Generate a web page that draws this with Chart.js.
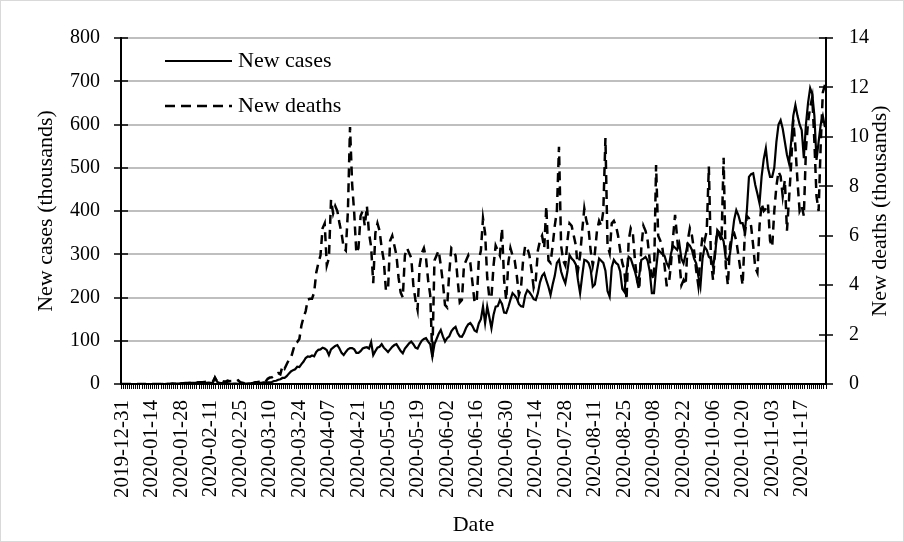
<!DOCTYPE html>
<html lang="en">
<head>
<meta charset="UTF-8">
<title>New cases and new deaths</title>
<script src="https://cdn.jsdelivr.net/npm/chart.js"></script>
<style>
  html, body { margin: 0; padding: 0; background: #fff; }
  #wrap { width: 904px; height: 542px; }
</style>
</head>
<body>
<div id="wrap"><canvas id="chart" width="904" height="542"></canvas></div>
<script>
// first day of the daily series, one value per day after it
const firstDay = Date.UTC(2019, 11, 31);

// dates shown under the x axis (every 14th day)
const tickDates = [
  '2019-12-31', '2020-01-14', '2020-01-28', '2020-02-11', '2020-02-25', '2020-03-10',
  '2020-03-24', '2020-04-07', '2020-04-21', '2020-05-05', '2020-05-19', '2020-06-02',
  '2020-06-16', '2020-06-30', '2020-07-14', '2020-07-28', '2020-08-11', '2020-08-25',
  '2020-09-08', '2020-09-22', '2020-10-06', '2020-10-20', '2020-11-03', '2020-11-17'
];

// left axis ticks (thousands of cases) and right axis ticks (thousands of deaths)
const caseTicks = [0, 100, 200, 300, 400, 500, 600, 700, 800];
const deathTicks = [0, 2, 4, 6, 8, 10, 12, 14];

// new cases, thousands (one row = one week, Tuesday to Monday)
const newCases = [
  0.03, 0, 0, 0, 0, 0.02, 0,
  0, 0, 0, 0, 0, 0, 0,
  0, 0, 0, 0.01, 0.02, 0.14, 0.02,
  0.15, 0.15, 0.1, 0.28, 0.5, 0.7, 0.8,
  1.8, 1.5, 1.8, 2.0, 2.1, 2.6, 2.8,
  3.2, 3.9, 3.7, 3.2, 3.4, 2.7, 3.0,
  2.5, 2.0, 15.2, 5.1, 2.6, 2.1, 2.1,
  1.9, 1.8, 0.5, 0.6, 1.0, 1.0, 0.6,
  0.9, 0.9, 0.8, 1.1, 1.3, 1.6, 1.8,
  2.3, 1.9, 2.5, 2.9, 3.8, 3.9, 3.6,
  4.1, 4.6, 7.0, 7.5, 9.8, 11.0, 14.0,
  14.0, 18.0, 24.0, 29.0, 32.0, 34.0, 40.0,
  39.0, 46.0, 52.0, 60.0, 64.0, 63.0, 66.0,
  64.0, 74.0, 79.0, 80.0, 84.0, 82.0, 78.0,
  67.0, 80.0, 84.0, 88.0, 90.0, 82.0, 72.0,
  67.0, 74.0, 80.0, 83.0, 83.0, 80.0, 72.0,
  72.0, 76.0, 82.0, 84.0, 85.0, 82.0, 97.0,
  67.0, 76.0, 84.0, 86.0, 92.0, 84.0, 79.0,
  74.0, 80.0, 86.0, 90.0, 92.0, 84.0, 76.0,
  71.0, 82.0, 88.0, 94.0, 98.0, 92.0, 84.0,
  82.0, 92.0, 100.0, 104.0, 106.0, 98.0, 92.0,
  63.0, 92.0, 104.0, 116.0, 125.0, 110.0, 98.0,
  106.0, 110.0, 122.0, 128.0, 132.0, 118.0, 110.0,
  109.0, 118.0, 130.0, 138.0, 141.0, 134.0, 124.0,
  121.0, 140.0, 150.0, 179.0, 141.0, 179.0, 155.0,
  129.0, 160.0, 179.0, 180.0, 194.0, 185.0, 165.0,
  164.0, 178.0, 195.0, 210.0, 205.0, 198.0, 185.0,
  180.0, 179.0, 205.0, 217.0, 212.0, 205.0, 196.0,
  194.0, 210.0, 235.0, 250.0, 256.0, 240.0, 225.0,
  206.0, 230.0, 250.0, 280.0, 287.0, 260.0, 245.0,
  233.0, 260.0, 298.0, 290.0, 285.0, 276.0, 240.0,
  210.0, 250.0, 287.0, 285.0, 280.0, 265.0, 225.0,
  230.0, 262.0, 290.0, 285.0, 280.0, 262.0, 215.0,
  202.0, 270.0, 287.0, 280.0, 276.0, 260.0, 220.0,
  213.0, 260.0, 294.0, 290.0, 275.0, 260.0, 240.0,
  250.0, 287.0, 290.0, 294.0, 285.0, 260.0, 210.0,
  210.0, 265.0, 310.0, 305.0, 300.0, 296.0, 280.0,
  270.0, 300.0, 320.0, 315.0, 310.0, 325.0, 290.0,
  279.0, 300.0, 325.0, 320.0, 310.0, 290.0, 279.0,
  250.0, 225.0, 290.0, 317.0, 310.0, 294.0, 290.0,
  271.0, 300.0, 356.0, 350.0, 340.0, 330.0, 290.0,
  287.0, 300.0, 340.0, 380.0, 402.0, 390.0, 372.0,
  372.0, 350.0, 400.0, 479.0, 485.0, 487.0, 460.0,
  440.0, 418.0, 480.0, 520.0, 545.0, 500.0, 479.0,
  479.0, 500.0, 560.0, 600.0, 610.0, 590.0, 560.0,
  530.0, 510.0, 560.0, 620.0, 645.0, 620.0, 600.0,
  587.0, 522.0, 600.0, 650.0, 684.0, 670.0, 620.0,
  518.0, 560.0, 600.0, 620.0, 594.0
];

// new deaths, thousands
const newDeaths = [
  0, 0, 0, 0, 0, 0, 0,
  0, 0, 0, 0.001, 0, 0, 0,
  0, 0, 0.001, 0, 0, 0.001, 0,
  0.003, 0.003, 0.008, 0.016, 0.015, 0.015, 0.024,
  0.026, 0.026, 0.038, 0.043, 0.046, 0.045, 0.057,
  0.064, 0.065, 0.073, 0.073, 0.086, 0.089, 0.097,
  0.108, 0.097, 0.254, 0.121, 0.143, 0.142, 0.106,
  0.098, 0.136, 0.115, 0.118, 0.109, 0.097, 0.150,
  0.071, 0.052, 0.029, 0.044, 0.047, 0.035, 0.042,
  0.067, 0.070, 0.090, 0.100, 0.110, 0.100, 0.210,
  0.26, 0.27, 0.33, 0.35, 0.44, 0.39, 0.73,
  0.62, 0.80, 0.97, 1.05, 1.35, 1.66, 1.70,
  1.82, 2.38, 2.70, 2.95, 3.42, 3.45, 3.45,
  3.70, 4.50, 4.90, 5.20, 6.30, 6.50, 4.80,
  5.10, 7.45, 6.90, 7.20, 7.00, 6.50, 6.10,
  5.50, 5.40, 7.00, 10.40, 8.10, 6.90, 5.30,
  5.50, 6.80, 7.00, 6.40, 7.20, 6.10, 5.55,
  4.08, 6.10, 6.50, 6.20, 5.50, 5.00, 3.80,
  3.80, 5.80, 6.00, 5.60, 5.20, 4.30, 3.70,
  3.50, 5.20, 5.50, 5.30, 5.10, 4.00, 3.40,
  3.00, 4.80, 5.30, 5.50, 5.10, 4.20, 3.60,
  1.10, 5.00, 5.20, 5.40, 4.80, 4.10, 3.20,
  3.10, 4.50, 5.50, 5.40, 5.20, 4.20, 3.30,
  3.40, 4.80, 5.00, 5.20, 4.90, 4.10, 3.30,
  3.30, 5.00, 5.40, 6.70, 6.10, 4.30, 3.50,
  3.50, 4.80, 5.60, 5.40, 5.20, 6.30, 4.20,
  3.40, 4.90, 5.50, 5.20, 5.00, 4.40, 3.60,
  3.90, 5.00, 5.60, 5.50, 5.20, 4.60, 3.90,
  4.20, 5.40, 5.80, 6.00, 5.50, 7.20, 5.00,
  4.90, 5.60, 6.40, 7.00, 9.60, 5.60, 5.00,
  4.80, 5.80, 6.50, 6.40, 6.00, 5.60, 4.60,
  5.20, 6.20, 7.10, 6.60, 6.30, 5.40, 4.80,
  5.30, 6.20, 6.60, 6.40, 7.00, 9.95, 5.60,
  5.30, 6.50, 6.60, 6.40, 6.00, 5.40, 4.90,
  4.60, 3.40, 5.80, 6.30, 6.10, 5.00, 4.20,
  3.80, 5.50, 6.40, 6.20, 5.80, 5.00, 4.40,
  4.20, 8.86, 6.00, 5.80, 5.50, 4.80, 4.00,
  4.00, 4.80, 5.90, 6.84, 5.90, 5.00, 4.00,
  4.20, 4.00, 5.80, 6.30, 6.00, 5.40, 4.60,
  4.00, 5.20, 6.00, 5.80, 6.20, 8.80, 5.00,
  4.20, 5.50, 6.20, 6.00, 5.80, 9.15, 4.80,
  4.00, 5.60, 6.00, 6.10, 5.80, 5.20, 4.60,
  4.00, 6.00, 6.80, 6.70, 6.40, 5.60, 4.70,
  4.50, 6.40, 7.30, 7.00, 7.10, 7.30, 5.80,
  5.55, 7.00, 8.00, 8.60, 8.40, 7.60, 8.25,
  6.20, 7.50, 8.90, 10.70, 9.60, 8.20, 7.00,
  7.20, 6.80, 9.50, 10.60, 11.20, 11.60, 9.80,
  7.60, 7.00, 9.70, 11.80, 12.10
];

const serif = "'Liberation Serif', 'Times New Roman', serif";

// one label per day
const dates = [];
for (let i = 0; i < newCases.length; i++) {
  dates.push(new Date(firstDay + i * 86400000).toISOString().slice(0, 10));
}

// legend, crossing tick marks, right title, grid (painted behind) and the outer frame
const extras = {
  id: 'extras',
  afterDraw(chart) {
    const ctx = chart.ctx;
    const area = chart.chartArea;
    const yL = chart.scales.y;
    const yR = chart.scales.y1;
    ctx.save();

    ctx.setLineDash([]);
    ctx.strokeStyle = '#000';
    ctx.lineWidth = 1.5;
    caseTicks.forEach(v => {
      const py = Math.round(yL.getPixelForValue(v));
      ctx.beginPath(); ctx.moveTo(area.left - 7, py); ctx.lineTo(area.left + 7, py); ctx.stroke();
    });
    deathTicks.forEach(v => {
      const py = Math.round(yR.getPixelForValue(v));
      ctx.beginPath(); ctx.moveTo(area.right - 7, py); ctx.lineTo(area.right + 7, py); ctx.stroke();
    });

    // legend inside the plot
    const lx = area.left + 44;
    const rows = [
      { text: 'New cases', y: area.top + 23, width: 2.2, dash: [] },
      { text: 'New deaths', y: area.top + 68, width: 2.5, dash: [10, 6] }
    ];
    ctx.font = '22px ' + serif;
    ctx.fillStyle = '#000';
    ctx.textBaseline = 'middle';
    ctx.textAlign = 'left';
    rows.forEach(r => {
      ctx.lineWidth = r.width;
      ctx.setLineDash(r.dash);
      ctx.beginPath(); ctx.moveTo(lx, r.y); ctx.lineTo(lx + 67, r.y); ctx.stroke();
      ctx.setLineDash([]);
      ctx.fillText(r.text, lx + 73, r.y);
    });

    // right axis title, read bottom to top like the left one
    ctx.save();
    ctx.translate(880, (area.top + area.bottom) / 2);
    ctx.rotate(-Math.PI / 2);
    ctx.textAlign = 'center';
    ctx.fillText('New deaths (thousands)', 0, 0);
    ctx.restore();

    // horizontal grid, slid under everything already painted
    ctx.globalCompositeOperation = 'destination-over';
    ctx.strokeStyle = '#bfbfbf';
    ctx.lineWidth = 2;
    for (let k = 1; k < caseTicks.length; k++) {
      const py = Math.round(yL.getPixelForValue(caseTicks[k]));
      ctx.beginPath(); ctx.moveTo(area.left + 1, py); ctx.lineTo(area.right - 1, py); ctx.stroke();
    }
    ctx.globalCompositeOperation = 'source-over';

    ctx.strokeStyle = '#d9d9d9';
    ctx.lineWidth = 1;
    ctx.strokeRect(0.5, 0.5, chart.width - 1, chart.height - 1);
    ctx.restore();
  }
};

new Chart(document.getElementById('chart'), {
  type: 'line',
  data: {
    labels: dates,
    datasets: [
      {
        label: 'New cases',
        data: newCases,
        yAxisID: 'y',
        borderColor: '#000',
        borderWidth: 2.2,
        pointRadius: 0,
        tension: 0,
        fill: false
      },
      {
        label: 'New deaths',
        data: newDeaths,
        yAxisID: 'y1',
        borderColor: '#000',
        borderWidth: 2.5,
        borderDash: [9, 6],
        pointRadius: 0,
        tension: 0,
        fill: false
      }
    ]
  },
  options: {
    responsive: false,
    animation: false,
    devicePixelRatio: 1,
    layout: { padding: { left: 29, right: 7, top: 38, bottom: 0 } },
    plugins: {
      legend: { display: false },
      tooltip: { enabled: false }
    },
    scales: {
      x: {
        type: 'category',
        offset: true,
        ticks: {
          autoSkip: false,
          minRotation: 90,
          maxRotation: 90,
          padding: 11,
          color: '#000',
          font: { family: serif, size: 21 },
          callback: function(value) {
            const lab = this.getLabelForValue(value);
            return tickDates.includes(lab) ? lab : '';
          }
        },
        grid: {
          display: true,
          drawOnChartArea: false,
          drawTicks: true,
          tickLength: 5,
          offset: true,
          color: '#000',
          lineWidth: 1
        },
        border: { display: true, color: '#000', width: 2 },
        title: {
          display: true,
          text: 'Date',
          color: '#000',
          font: { family: serif, size: 22 },
          padding: { top: 4, bottom: 4 }
        },
        afterFit(scale) { scale.height = 158; }
      },
      y: {
        position: 'left',
        min: 0,
        max: 800,
        ticks: { stepSize: 100, padding: 21, color: '#000', font: { family: serif, size: 20 } },
        grid: { drawOnChartArea: false, drawTicks: false },
        border: { display: true, color: '#000', width: 2 },
        title: {
          display: true,
          text: 'New cases (thousands)',
          color: '#000',
          font: { family: serif, size: 22 },
          padding: { top: 4, bottom: 4 }
        },
        afterFit(scale) { scale.width = 92; }
      },
      y1: {
        position: 'right',
        min: 0,
        max: 14,
        ticks: { stepSize: 2, padding: 23, color: '#000', font: { family: serif, size: 20 } },
        grid: { drawOnChartArea: false, drawTicks: false },
        border: { display: true, color: '#000', width: 2 },
        afterFit(scale) { scale.width = 71; }
      }
    }
  },
  plugins: [extras]
});
</script>
</body>
</html>
